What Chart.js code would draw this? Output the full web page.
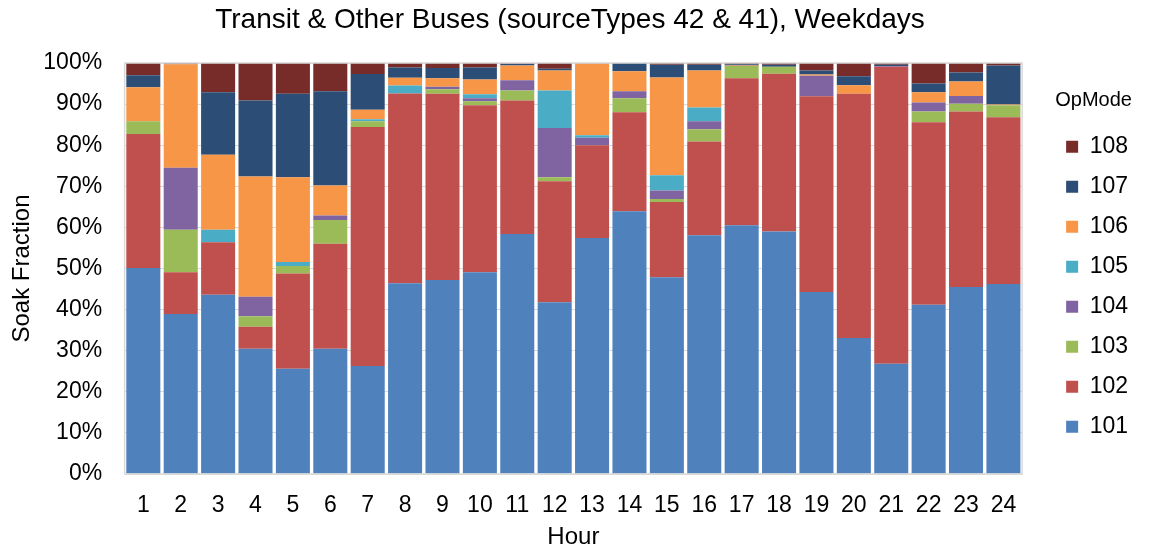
<!DOCTYPE html>
<html>
<head>
<meta charset="utf-8">
<script src="https://cdn.jsdelivr.net/npm/chart.js@4"></script>
<style>
    body { margin: 0; background: #fff; }
    #wrap { width: 1160px; height: 552px; }
</style>
</head>
<body>
<div id="wrap"><canvas id="soakChart"></canvas></div>
<script>
const hours = ["1","2","3","4","5","6","7","8","9","10","11","12","13","14","15","16","17","18","19","20","21","22","23","24"];

// soak fraction per OpMode, in percent
const op101 = [50.1, 38.9, 43.6, 30.5, 25.6, 30.5, 26.3, 46.4, 47.2, 49.1, 58.4, 41.8, 57.4, 63.9, 47.9, 58.1, 60.5, 59.0, 44.3, 33.1, 26.8, 41.2, 45.5, 46.2];
const op102 = [32.6, 10.2, 12.8, 5.3, 23.2, 25.5, 58.1, 46.2, 45.3, 40.6, 32.5, 29.4, 22.6, 24.1, 18.3, 22.8, 35.8, 38.4, 47.6, 59.4, 72.3, 44.4, 42.7, 40.6];
const op103 = [3.1, 10.3, 0, 2.6, 1.8, 5.8, 1.4, 0, 1.1, 1.0, 2.4, 1.0, 0, 3.4, 0.7, 3.0, 3.0, 1.7, 0, 0, 0, 2.6, 1.9, 2.9];
const op104 = [0, 15.1, 0, 4.7, 0, 1.1, 0, 0, 0.6, 0.7, 2.5, 12.0, 1.8, 1.7, 2.1, 1.9, 0, 0, 5.0, 0, 0.2, 2.2, 1.9, 0];
const op105 = [0, 0, 3.0, 0, 1.0, 0, 0.5, 1.9, 0, 1.0, 0, 9.1, 0.6, 0, 3.7, 3.4, 0, 0, 0, 0, 0, 0, 0, 0];
const op106 = [8.3, 25.2, 18.3, 29.3, 20.6, 7.3, 2.3, 1.9, 2.1, 3.6, 3.6, 4.9, 17.5, 4.9, 23.8, 9.0, 0.1, 0, 0.3, 2.1, 0, 2.5, 3.5, 0.2];
const op107 = [2.9, 0.1, 15.2, 18.5, 20.3, 22.9, 8.7, 2.5, 2.5, 2.9, 0.4, 0.4, 0, 2.0, 3.1, 1.4, 0.3, 0.5, 1.0, 2.2, 0.3, 2.1, 2.2, 9.5];
const op108 = [3.0, 0.2, 7.1, 9.1, 7.5, 6.9, 2.7, 1.1, 1.2, 1.1, 0.2, 1.4, 0.1, 0, 0.4, 0.4, 0.3, 0.4, 1.8, 3.2, 0.4, 5.0, 2.3, 0.6];

const yTicks = [0, 10, 20, 30, 40, 50, 60, 70, 80, 90, 100];

const seriesNames = ["101", "102", "103", "104", "105", "106", "107", "108"];
const seriesData = [op101, op102, op103, op104, op105, op106, op107, op108];
const seriesColors = ["#4f81bd", "#c0504d", "#9bbb59", "#8064a2", "#4bacc6", "#f79646", "#2c4d75", "#772c2a"];

Chart.defaults.font.family = "'Liberation Sans', Arial, sans-serif";
Chart.defaults.color = "#000";

// thin grey frame around the plot area
const plotFrame = {
    id: "plotFrame",
    afterDatasetsDraw(chart) {
        const a = chart.chartArea;
        const c = chart.ctx;
        c.save();
        c.strokeStyle = "#d9d9d9";
        c.lineWidth = 1.5;
        c.strokeRect(a.left, a.top, a.right - a.left, a.bottom - a.top);
        c.restore();
    }
};

new Chart(document.getElementById("soakChart").getContext("2d"), {
    type: "bar",
    data: {
        labels: hours,
        datasets: seriesNames.map((name, i) => ({
            label: name,
            data: seriesData[i],
            backgroundColor: seriesColors[i],
            borderWidth: 0,
            barPercentage: 0.91,
            categoryPercentage: 1
        }))
    },
    options: {
        responsive: true,
        maintainAspectRatio: false,
        animation: false,
        layout: { padding: { left: 2, right: 22, top: 2, bottom: 0 } },
        plugins: {
            title: {
                display: true,
                text: "Transit & Other Buses (sourceTypes 42 & 41), Weekdays",
                font: { size: 28, weight: "normal" },
                padding: { top: 1, bottom: 26.4 }
            },
            legend: {
                position: "right",
                fullSize: false,
                reverse: true,
                title: {
                    display: true,
                    text: "OpMode",
                    font: { size: 20 },
                    padding: { top: 8.5, bottom: 4 }
                },
                labels: {
                    boxWidth: 12,
                    boxHeight: 12,
                    padding: 17,
                    font: { size: 23 }
                }
            },
            tooltip: { enabled: false }
        },
        scales: {
            x: {
                stacked: true,
                grid: { display: false },
                border: { display: false },
                ticks: { font: { size: 23 }, maxRotation: 0, autoSkip: false, padding: 10 },
                title: { display: true, text: "Hour", font: { size: 24 }, padding: { top: -6.4, bottom: 0 } }
            },
            y: {
                stacked: true,
                min: 0,
                max: 100,
                afterBuildTicks(axis) {
                    axis.ticks = yTicks.map(v => ({ value: v }));
                },
                grid: { color: "#d9d9d9", drawTicks: false },
                border: { display: false },
                ticks: { font: { size: 23 }, padding: 22.5, callback: v => v + "%" },
                title: { display: true, text: "Soak Fraction", font: { size: 24 }, padding: { top: 6, bottom: -16 } }
            },
            // empty axis: keeps the gap between plot and legend
            gap: {
                type: "linear",
                position: "right",
                grid: { display: false },
                border: { display: false },
                ticks: { display: false },
                afterFit(axis) { axis.width = 27; }
            }
        }
    },
    plugins: [plotFrame]
});
</script>
</body>
</html>
